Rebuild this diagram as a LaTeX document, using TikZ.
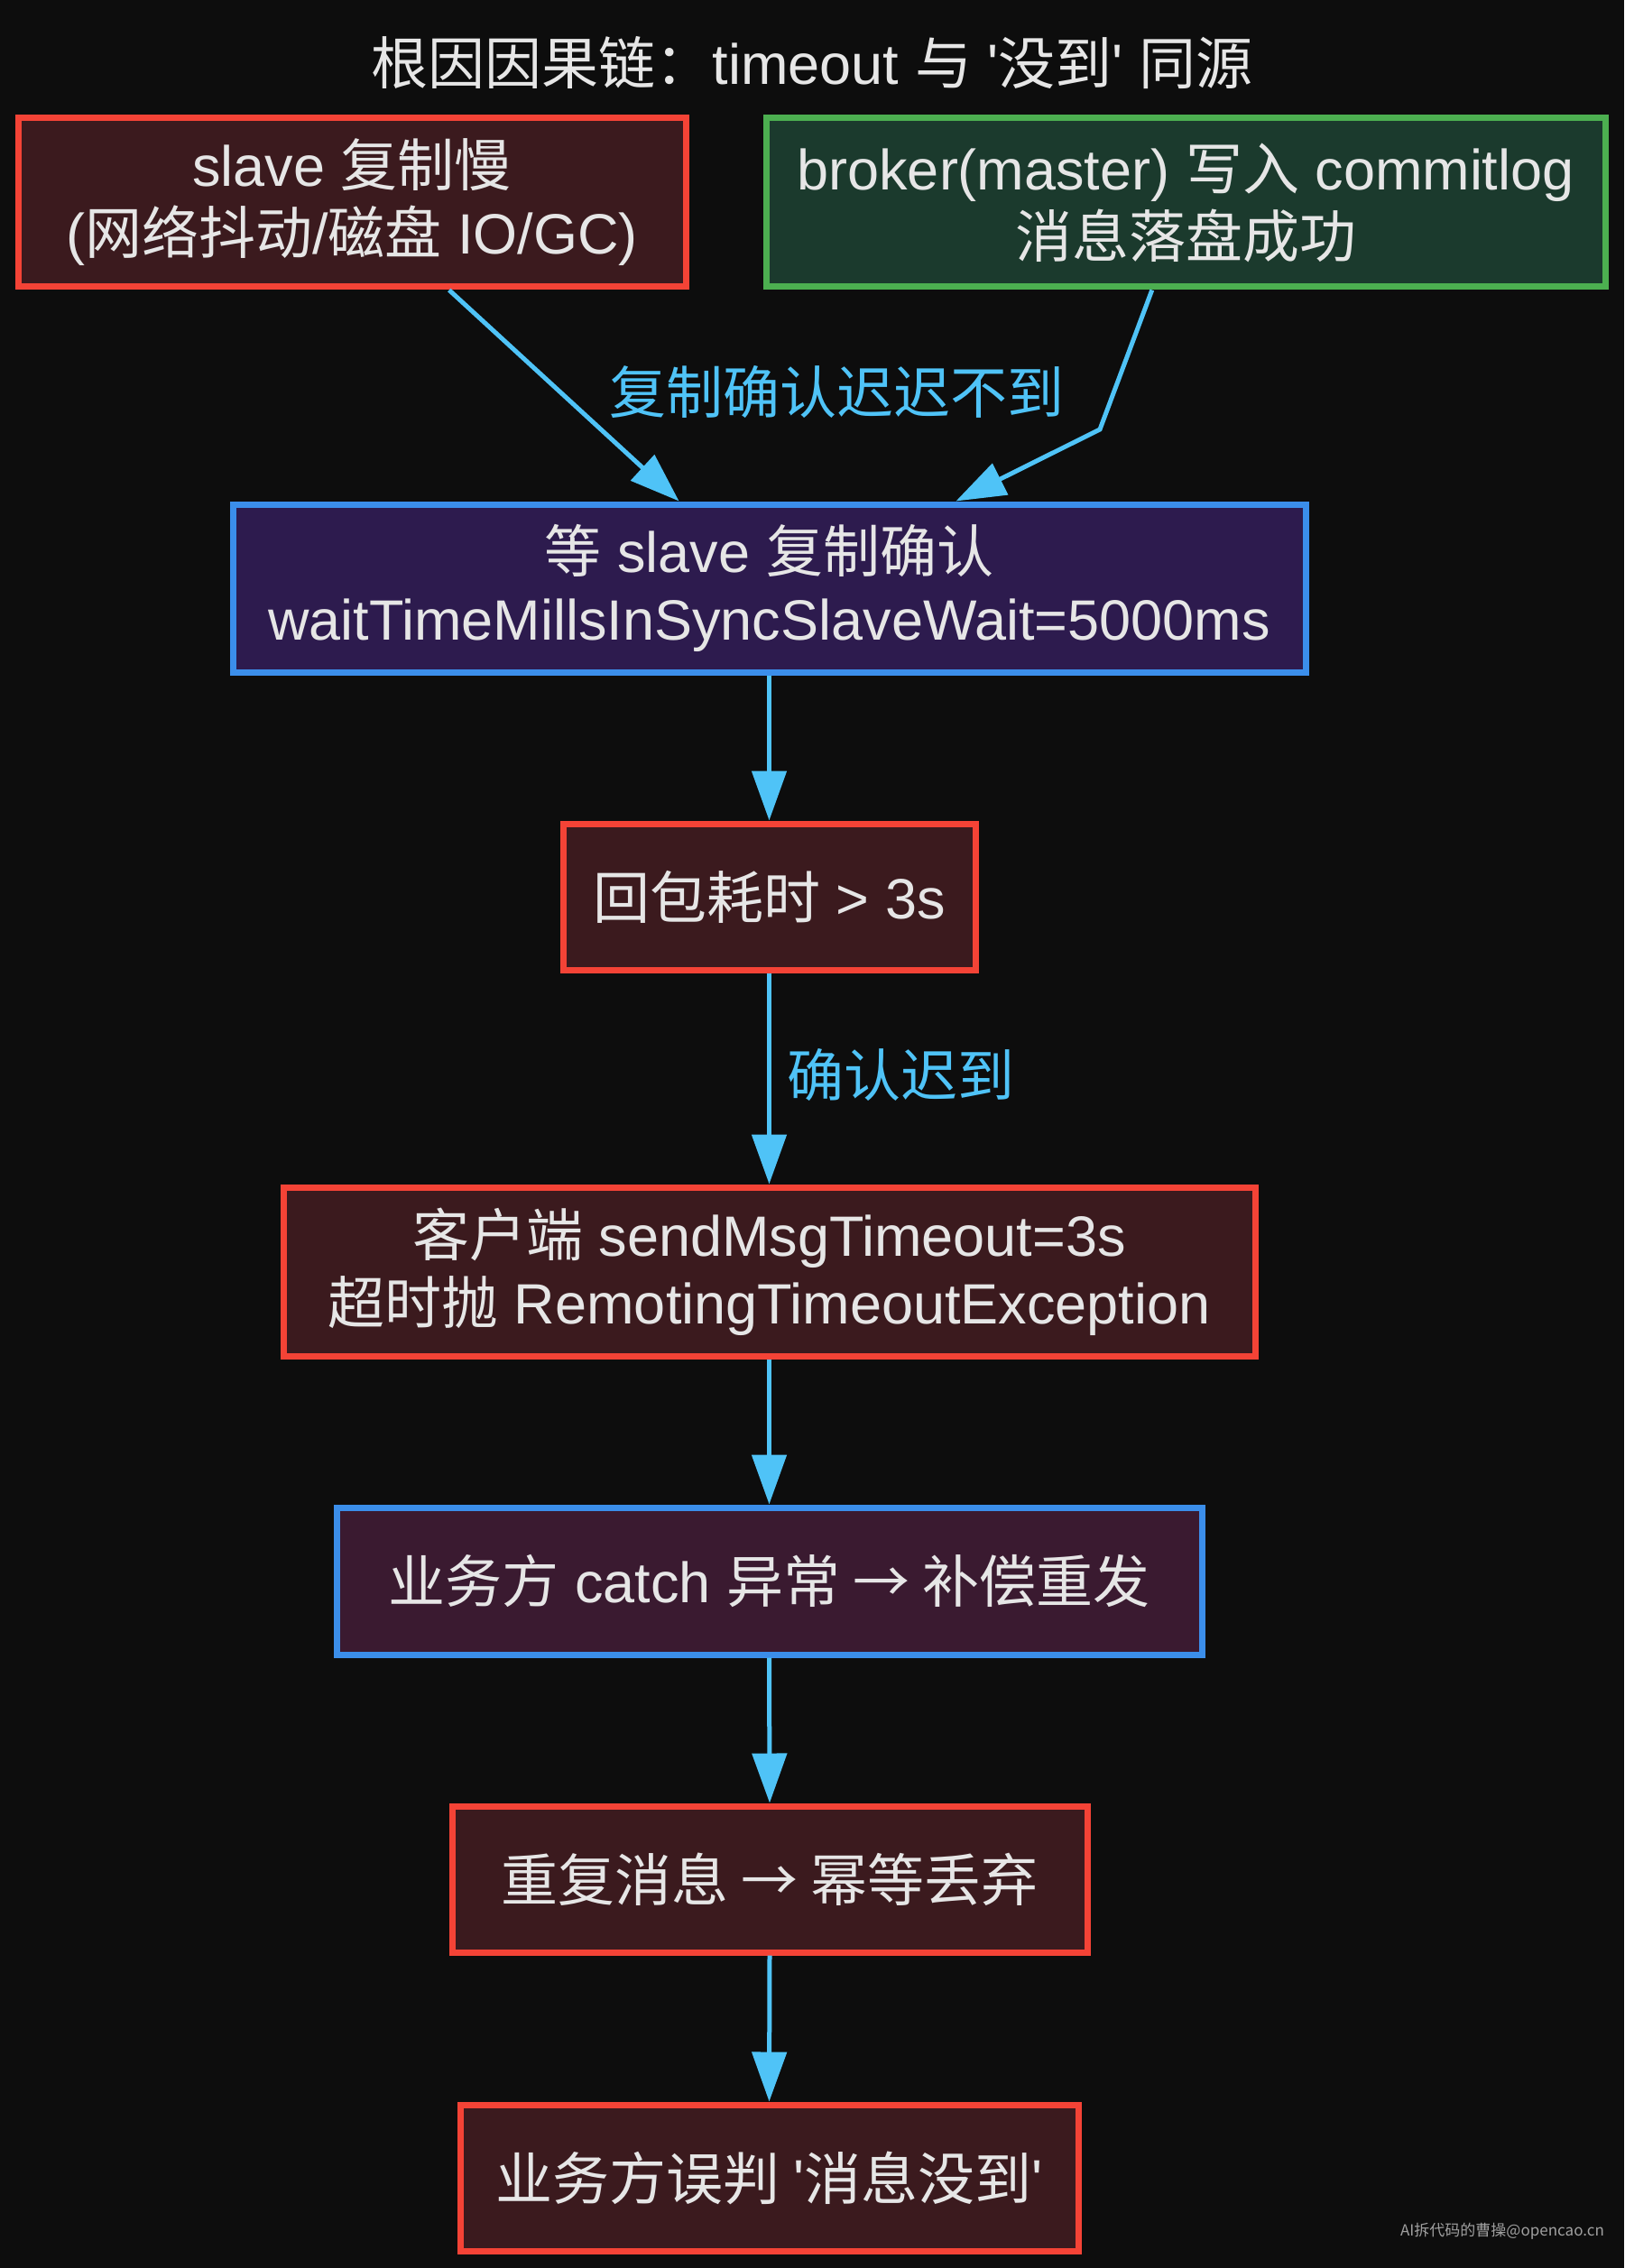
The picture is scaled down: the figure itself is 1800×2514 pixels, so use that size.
\documentclass[tikz,border=0pt]{standalone}
\usepackage{fontspec}
\setmainfont{Liberation Sans}
\newfontfamily\cjk{Noto Sans CJK SC}
\usetikzlibrary{arrows.meta}
\newcommand\zh[1]{{\cjk #1}}
\newcommand\sq{\textquotesingle}
\definecolor{bgc}{HTML}{0D0D0D}
\definecolor{fgc}{HTML}{E6E6E6}
\definecolor{edgec}{HTML}{4FC3F7}
\definecolor{redb}{HTML}{F44336}
\definecolor{redf}{HTML}{3B1A1E}
\definecolor{greenb}{HTML}{4CAF50}
\definecolor{greenf}{HTML}{1B3A2D}
\definecolor{blueb}{HTML}{3B8EEA}
\definecolor{purplef}{HTML}{2D1B4E}
\definecolor{plumf}{HTML}{3A1A30}
\definecolor{wmc}{HTML}{A0A0A0}
\begin{document}
\begin{tikzpicture}[x=0.5pt,y=-0.5pt,
  txt/.style={font=\fontsize{31.5pt}{37.5pt}\selectfont, align=center},
  box/.style={txt, draw, line width=3.5pt, inner sep=0pt, text=fgc},
  redbox/.style={box, draw=redb, fill=redf},
  greenbox/.style={box, draw=greenb, fill=greenf},
  bluebox/.style={box, draw=blueb, fill=purplef},
  plumbox/.style={box, draw=blueb, fill=plumf},
  edge/.style={draw=edgec, line width=2.5pt, -{Triangle[length=27.5pt,width=19pt]}},
  elabel/.style={txt, text=edgec, inner sep=0pt}
]
\fill[bgc] (0,0) rectangle (1800,2514);
\useasboundingbox (0,0) rectangle (1800,2514);

\node[txt, text=fgc, inner sep=0pt] (title) at (900,70)
  {\zh{根因因果链：}timeout \zh{与} \sq\zh{没到}\sq{} \zh{同源}};

\node[redbox, minimum width=370pt, minimum height=93.5pt] (A) at (390,224.5)
  {slave \zh{复制慢}\\(\zh{网络抖动}/\zh{磁盘} IO/GC)};
\node[greenbox, minimum width=465pt, minimum height=93.5pt] (B) at (1314,224.5)
  {broker(master) \zh{写入} commitlog\\\zh{消息落盘成功}};
\node[bluebox, minimum width=594.5pt, minimum height=93pt] (C) at (852.5,652)
  {\zh{等} slave \zh{复制确认}\\waitTimeMillsInSyncSlaveWait=5000ms};
\node[redbox, minimum width=228.5pt, minimum height=81pt] (D) at (852.5,994)
  {\zh{回包耗时} > 3s};
\node[redbox, minimum width=538.5pt, minimum height=93.5pt] (E) at (852.5,1409.5)
  {\zh{客户端} sendMsgTimeout=3s\\\zh{超时抛} RemotingTimeoutException};
\node[plumbox, minimum width=479.5pt, minimum height=81.5pt] (F) at (852.5,1752.5)
  {\zh{业务方} catch \zh{异常 → 补偿重发}};
\node[redbox, minimum width=352pt, minimum height=81pt] (G) at (853,2083)
  {\zh{重复消息 → 幂等丢弃}};
\node[redbox, minimum width=342.5pt, minimum height=81pt] (H) at (852.5,2414)
  {\zh{业务方误判 }\sq\zh{消息没到}\sq};

\coordinate (bendB) at (1219,476);
\node[elabel] (L1) at (927,434) {\zh{复制确认迟迟不到}};
\node[elabel] (L2) at (998,1191) {\zh{确认迟到}};

\draw[edge] (A.-42) -- (C.136.6);
\draw[edge] (B.-111.06) -- (bendB) -- (C.25.78);
\draw[edge] (C.south) -- (D.north);
\draw[edge] (D.south) -- (E.north);
\draw[edge] (E.south) -- (F.north);
\draw[edge] (F.south) -- (G.north);
\draw[edge] (G.south) -- (H.north);

\node[font=\cjk\fontsize{8.5pt}{10pt}\selectfont, text=wmc, inner sep=0pt] (wm) at (1665,2473)
  {AI拆代码的曹操@opencao.cn};
\end{tikzpicture}
\end{document}
